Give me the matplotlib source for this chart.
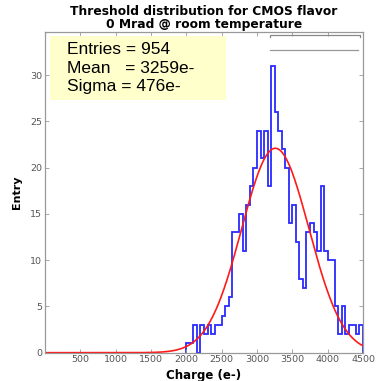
import matplotlib
matplotlib.use("Agg")
import matplotlib.pyplot as plt
import numpy as np
from matplotlib.patches import Rectangle

# histogram: 50 e- bins from 2000 to 4500
bin_start = 2000
bin_width = 50
counts = [1, 1, 3, 0, 3, 2, 3, 2, 3, 3,
          4, 5, 6, 13, 13, 15, 11, 16, 18, 20,
          24, 21, 24, 18, 31, 26, 24, 22, 20, 14,
          16, 12, 8, 7, 13, 14, 13, 11, 18, 11,
          10, 10, 5, 2, 5, 2, 3, 3, 2, 3]

# gaussian fit parameters
fit_amp = 22.1
fit_mean = 3259
fit_sigma = 476

stats_lines = ["Entries = 954", "Mean   = 3259e-", "Sigma = 476e-"]
title_lines = ["Threshold distribution for CMOS flavor", "0 Mrad @ room temperature"]
x_ticks = [500, 1000, 1500, 2000, 2500, 3000, 3500, 4000, 4500]
y_ticks = [0, 5, 10, 15, 20, 25, 30]

edges = bin_start + bin_width * np.arange(len(counts) + 1)

fig = plt.figure(figsize=(3.77, 3.81), dpi=100)
ax = fig.add_axes([0.1194, 0.0743, 0.8435, 0.8425])

ax.stairs(counts, edges, color="#2a2aff", lw=1.3, baseline=0)

xf = np.linspace(0, 4500, 500)
ax.plot(xf, fit_amp * np.exp(-0.5 * ((xf - fit_mean) / fit_sigma) ** 2), color="#ff1a1a", lw=1.2)

ax.set_xlim(0, 4500)
ax.set_ylim(0, 34.7)
ax.set_xticks(x_ticks)
ax.set_yticks(y_ticks)
ax.tick_params(direction="in", top=True, right=True, length=3, width=0.6,
               labelsize=6.8, colors="#999999", pad=2)
ax.tick_params(labelcolor="#555555")
for s in ax.spines.values():
    s.set_color("#999999")
    s.set_linewidth(0.9)

ax.set_title("\n".join(title_lines), fontsize=8.8, fontweight="bold", pad=3, linespacing=1.0)
ax.set_xlabel("Charge (e-)", fontsize=8.5, fontweight="bold", labelpad=3)
ax.set_ylabel("Entry", fontsize=8, fontweight="bold", labelpad=6)

# stats box
ax.add_patch(Rectangle((0.016, 0.787), 0.553, 0.2, transform=ax.transAxes,
                       facecolor="#ffffcc", edgecolor="none", zorder=3))
for i, line in enumerate(stats_lines):
    ax.text(0.068, 0.943 - 0.057 * i, line, transform=ax.transAxes, fontsize=12.5,
            family="Liberation Sans", va="center", ha="left", zorder=4)

# leftover grey bracket lines top right
ax.plot([0.708, 0.708, 0.99, 0.99], [0.983, 0.99, 0.99, 0.983], transform=ax.transAxes,
        color="#888888", lw=0.9)
ax.plot([0.708, 0.985], [0.943, 0.943], transform=ax.transAxes, color="#999999", lw=0.9)

fig.savefig("out.png", dpi=100)
